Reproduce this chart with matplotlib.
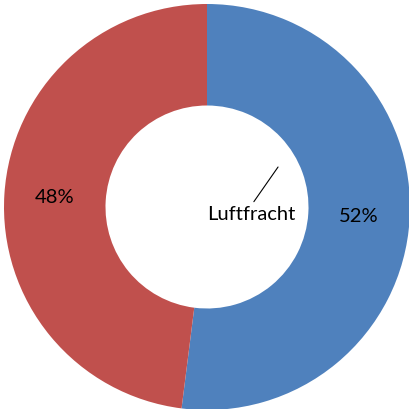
import matplotlib
matplotlib.use('Agg')
import matplotlib.pyplot as plt
import numpy as np

# chart data
labels = ['Luftfracht', '']
values = [52, 48]
colors = ['#4F81BD', '#C0504D']

plt.rcParams['font.family'] = ['Lato', 'DejaVu Sans']

fig = plt.figure(figsize=(4.09, 4.09), dpi=100)
ax = fig.add_axes([0, 0, 1, 1])

wedges, texts = ax.pie(values, colors=colors, startangle=90, counterclock=False,
                       radius=1.0, wedgeprops=dict(width=0.5, linewidth=0))

# percentage labels at the middle of each ring segment
for w, v in zip(wedges, values):
    ang = np.deg2rad((w.theta1 + w.theta2) / 2)
    ax.text(0.75 * np.cos(ang), 0.75 * np.sin(ang), f'{v}%',
            ha='center', va='center', fontsize=14.5)

# series name label with leader line
ax.annotate(labels[0], xy=(0.35, 0.197), xytext=(0.0, -0.035),
            ha='left', va='center', fontsize=14.5,
            arrowprops=dict(arrowstyle='-', color='black', lw=0.8,
                            relpos=(0.5, 1.0), shrinkA=1, shrinkB=0))

ax.set_xlim(-207 / 203, 202 / 203)
ax.set_ylim(-202 / 203, 207 / 203)
ax.set_aspect('equal')
ax.axis('off')

fig.savefig('out.png', dpi=100)
